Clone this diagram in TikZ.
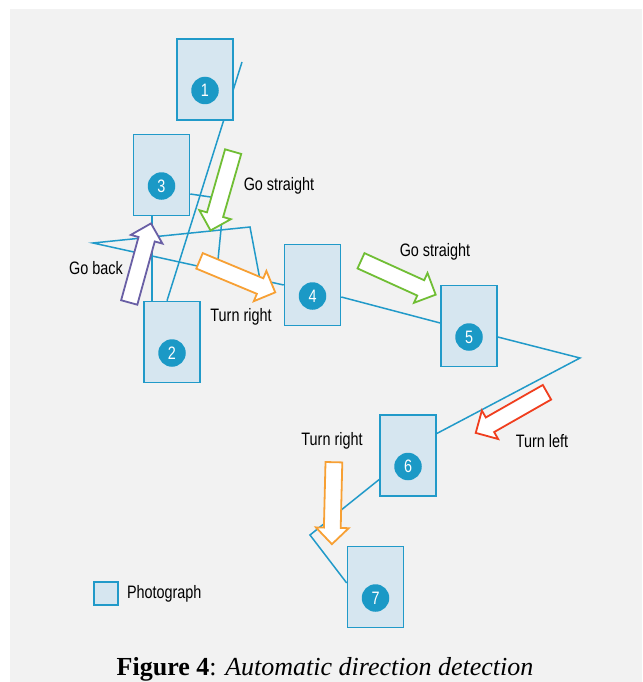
\documentclass[tikz,border=0pt]{standalone}
\usepackage{fontspec}
\newfontfamily\labelfont[FakeStretch=0.8]{Liberation Sans}
\newfontfamily\capfont{Liberation Serif}
\usetikzlibrary{shapes.arrows,positioning,calc}
\pgfdeclarelayer{background}
\pgfsetlayers{background,main}
\definecolor{routeblue}{RGB}{33,154,201}
\definecolor{photofill}{RGB}{214,230,240}
\definecolor{badgeblue}{RGB}{27,153,198}
\definecolor{bggrey}{RGB}{242,242,242}
\definecolor{gogreen}{RGB}{112,190,52}
\definecolor{turnorange}{RGB}{247,160,52}
\definecolor{backpurple}{RGB}{105,95,165}
\definecolor{leftred}{RGB}{240,62,30}

\begin{document}
\begin{tikzpicture}[x=1pt,y=-1pt,
    photo/.style={rectangle, draw=routeblue, fill=photofill, line width=1.6pt,
      minimum width=56pt, minimum height=81pt, inner sep=0pt},
    badge/.style={circle, fill=badgeblue, text=white, minimum size=27.5pt,
      inner sep=0pt, font=\labelfont\fontsize{18}{18}\selectfont},
    lbl/.style={inner sep=0pt, font=\labelfont\fontsize{18}{20}\selectfont},
    dirarrow/.style={single arrow, draw=#1, fill=white, line width=1.8pt,
      minimum height=82pt, text height=0pt, text depth=0pt, text width=0pt,
      inner xsep=0pt, inner ysep=7.5pt, single arrow head extend=8pt},
    route/.style={draw=routeblue, line width=1.5pt}]
  \useasboundingbox (0,0) rectangle (642,682);
  \begin{pgfonlayer}{background}
    \fill[white] (0,0) rectangle (642,682);
    \fill[bggrey] (10,9) rectangle (642,682);
  \end{pgfonlayer}

  % photographs
  \node[photo] (p1) at (205,79.5) {};
  \node[photo] (p3) at (161.5,175) {};
  \node[photo] (p2) at (172,342) {};
  \node[photo] (p4) at (312.5,285) {};
  \node[photo] (p5) at (469,326) {};
  \node[photo] (p6) at (408,455.5) {};
  \node[photo] (p7) at (375.5,587) {};
  \foreach \p/\n in {p1/1,p2/2,p3/3,p4/4,p5/5,p6/6,p7/7}
    \node[badge] (b\n) at ([yshift=-11pt]\p.center) {\n};

  % track points
  \coordinate (t0) at (242,62);
  \coordinate (t1) at (93,243);
  \coordinate (t2) at (250,227);
  \coordinate (t3) at (261,285);
  \coordinate (t4) at (580,358);
  \coordinate (t5) at (310,535);
  \coordinate (c1) at (224,199);
  \coordinate (c2) at (217,270);

  % direction arrows
  \node[dirarrow=gogreen, rotate=254] (a1) at (223,187) {};
  \node[dirarrow=backpurple, rotate=74.6] (a2) at (139,267) {};
  \node[dirarrow=turnorange, rotate=-22.6] (a3) at (233.5,275) {};
  \node[dirarrow=gogreen, rotate=-24.4] (a4) at (394.5,276) {};
  \node[dirarrow=leftred, rotate=209.7] (a5) at (515,410.5) {};
  \node[dirarrow=turnorange, rotate=268.6] (a6) at (333,499) {};

  % labels
  \node[lbl] (l1) at (279,186) {Go straight};
  \node[lbl] (l2) at (96,268) {Go back};
  \node[lbl] (l3) at (241,317) {Turn right};
  \node[lbl] (l4) at (435,252) {Go straight};
  \node[lbl] (l5) at (542,441) {Turn left};
  \node[lbl] (l6) at (332,441) {Turn right};

  % legend
  \node[photo, minimum width=24pt, minimum height=23pt] (key) at (106,593.5) {};
  \node[lbl, right=8pt of key] (keytext) {Photograph};

  % caption
  \node[anchor=base, inner sep=0pt, font=\capfont\fontsize{26}{28}\selectfont]
    (cap) at (325,675.5) {\textbf{Figure 4}: \textit{Automatic direction detection}};

  % track
  \begin{pgfonlayer}{background}
    \draw[route] (t0) -- ($(p2.north)+(-5,0)$);
    \draw[route] ([xshift=-9.5pt]p3.south) -- ([xshift=-20pt]p2.north);
    \draw[route] ([yshift=-19pt]p3.east) -- (c1) -- (c2);
    \draw[route] (t3) -- (t2) -- (t1) -- (p4.west);
    \draw[route] ([yshift=-12pt]p4.east) -- ([yshift=3pt]p5.west);
    \draw[route] ([yshift=-11pt]p5.east) -- (t4) -- ([yshift=22pt]p6.east);
    \draw[route] ([yshift=-24pt]p6.west) -- (t5) -- ([yshift=4pt]p7.west);
  \end{pgfonlayer}
\end{tikzpicture}
\end{document}
